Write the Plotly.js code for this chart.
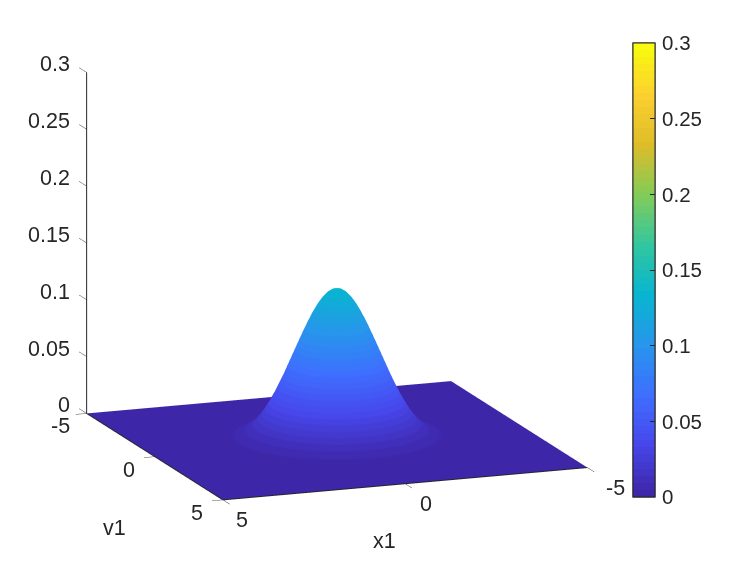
<!DOCTYPE html>
<html><head><meta charset="utf-8">
<script src="https://cdn.plot.ly/plotly-3.0.1.min.js"></script>
<style>html,body{margin:0;padding:0;background:#fff}#c{width:747px;height:561px}</style>
</head><body><div id="c"></div>
<script>
// radial profile of the bell
const bellRadius = [0,0.125,0.25,0.375,0.5,0.625,0.75,0.875,1,1.125,1.25,1.375,1.5,1.625,1.75,1.875,2,2.125,2.25,2.375,2.5,2.625,2.75,3,3.25,3.5,4,5];
const bellHeight = [0.134,0.13309,0.1304,0.12598,0.12007,0.11287,0.1047,0.09578,0.08646,0.07693,0.0675,0.05786,0.04906,0.04078,0.03332,0.02651,0.02068,0.01593,0.01202,0.00913,0.00683,0.00504,0.00366,0.00184,0.00088,0.00039,0.00007,0];
const planeX = [-5,5];
const planeY = [-5,5];
const planeZ = [[0,0],[0,0]];
const zTicks = [0,0.05,0.1,0.15,0.2,0.25,0.3];
const zTickLabels = ['0','0.05','0.1','0.15','0.2','0.25','0.3'];
const xyTicks = [-5,0,5];
const xyTickLabels = ['-5','0','5'];
const parulaStops = [[62,38,168],[71,71,235],[62,111,255],[39,150,235],[8,181,208],[49,198,159],[129,204,89],[220,189,41],[252,207,48],[249,251,14]];

const BANDS = 64;
const colorscale = [];
function parula(t){
  const p=t*(parulaStops.length-1), i=Math.min(Math.floor(p),parulaStops.length-2), f=p-i;
  return 'rgb('+parulaStops[i].map((v,k)=>Math.round(v+(parulaStops[i+1][k]-v)*f)).join(',')+')';
}
for(let b=0;b<BANDS;b++){
  const c=parula(b/(BANDS-1));
  colorscale.push([b/BANDS,c],[(b+1)/BANDS,c]);
}
const ANGLES=180;
const bx=[],by=[],bz=[];
bellRadius.forEach((r,i)=>{
  const rx=[],ry=[],rz=[];
  for(let a=0;a<=ANGLES;a++){
    const t=a/ANGLES*2*Math.PI;
    rx.push(r*Math.cos(t));ry.push(r*Math.sin(t));rz.push(bellHeight[i]);
  }
  bx.push(rx);by.push(ry);bz.push(rz);
});
const FONT='Liberation Sans, Arial, sans-serif', INK='#262626';
const flat={ambient:1,diffuse:0,specular:0,roughness:1,fresnel:0};
const XYMIN=-5,XYMAX=5,ZMAX=0.3;
const SPAN=5.6;
function hiddenAxis(){return {showbackground:false,showgrid:false,zeroline:false,showspikes:false,showline:false,ticks:'',showticklabels:false,title:{text:''}};}
// axis lines and tick marks, built from the tick arrays
const ax={x:[XYMIN,XYMAX,null,XYMAX,XYMAX,null,XYMAX,XYMAX],y:[XYMAX,XYMAX,null,XYMIN,XYMAX,null,XYMIN,XYMIN],z:[0,0,null,0,0,null,0,ZMAX]};
const tk={x:[],y:[],z:[]};
const seg=(a,b)=>{tk.x.push(a[0],b[0],null);tk.y.push(a[1],b[1],null);tk.z.push(a[2],b[2],null);};
zTicks.forEach(t=>seg([XYMAX,XYMIN,t],[XYMAX,XYMIN-0.55,t]));
xyTicks.forEach(t=>seg([XYMAX,t,0],[XYMAX+0.3,t,0]));
xyTicks.forEach(t=>seg([t,XYMAX,0],[t,XYMAX+0.5,0]));
const barBase={x:633/747,xanchor:'left',y:1-43/561,yanchor:'top',len:454,lenmode:'pixels',thickness:22,thicknessmode:'pixels',xpad:0,ypad:0,
   outlinecolor:INK,outlinewidth:1,tickvals:zTicks,ticktext:zTickLabels};
const traces=[
 {type:'surface',x:planeX,y:planeY,z:planeZ,surfacecolor:planeZ,cmin:0,cmax:ZMAX,colorscale,lighting:flat,hoverinfo:'skip',
  colorbar:Object.assign({},barBase,{ticks:'outside',ticklen:3,tickcolor:'rgba(0,0,0,0)',tickfont:{family:FONT,size:20.5,color:INK}})},
 {type:'surface',x:bx,y:by,z:bz,surfacecolor:bz,cmin:0,cmax:ZMAX,colorscale,lighting:flat,
  colorbar:Object.assign({},barBase,{ticks:'inside',ticklen:5,tickcolor:INK,showticklabels:false})},
 {type:'scatter3d',mode:'lines',x:ax.x,y:ax.y,z:ax.z,line:{color:INK,width:2},hoverinfo:'skip',showlegend:false},
 {type:'scatter3d',mode:'lines',x:tk.x,y:tk.y,z:tk.z,line:{color:'#555555',width:1},hoverinfo:'skip',showlegend:false}
];
const note=(x,y,z,text,xshift,yshift,xanchor,size)=>({x,y,z,text,xshift,yshift,xanchor:xanchor||'center',yanchor:'middle',showarrow:false,font:{family:FONT,size:size||21.5,color:INK}});
const annotations=[];
zTicks.forEach((t,i)=>annotations.push(note(5,-5,t,zTickLabels[i],-15,8,'right')));
xyTicks.forEach((t,i)=>annotations.push(note(5,t,0,xyTickLabels[i],-26,-13)));
xyTicks.forEach((t,i)=>annotations.push(note(t,5,0,xyTickLabels[i],[28,21,19][i],-20)));
annotations.push(note(0,5,0,'x1',-21,-57));
annotations.push(note(5,0,0,'v1',-40,-71));
const layout={width:747,height:561,margin:{l:0,r:0,t:0,b:0},paper_bgcolor:'#fff',showlegend:false,
 scene:{domain:{x:[0,0.902],y:[21/561,1]},aspectmode:'manual',aspectratio:{x:1.441*SPAN/5,y:1.441*SPAN/5,z:1.30},
  camera:{projection:{type:'orthographic'},up:{x:0,y:0,z:1},center:{x:0,y:0,z:0},eye:{x:0.34*2,y:0.909*2,z:0.237*2}},
  xaxis:Object.assign(hiddenAxis(),{range:[-SPAN,SPAN]}),
  yaxis:Object.assign(hiddenAxis(),{range:[-SPAN,SPAN]}),
  zaxis:Object.assign(hiddenAxis(),{range:[0,ZMAX]}),
  annotations
 }};
Plotly.newPlot('c',traces,layout,{displayModeBar:false});
</script></body></html>
